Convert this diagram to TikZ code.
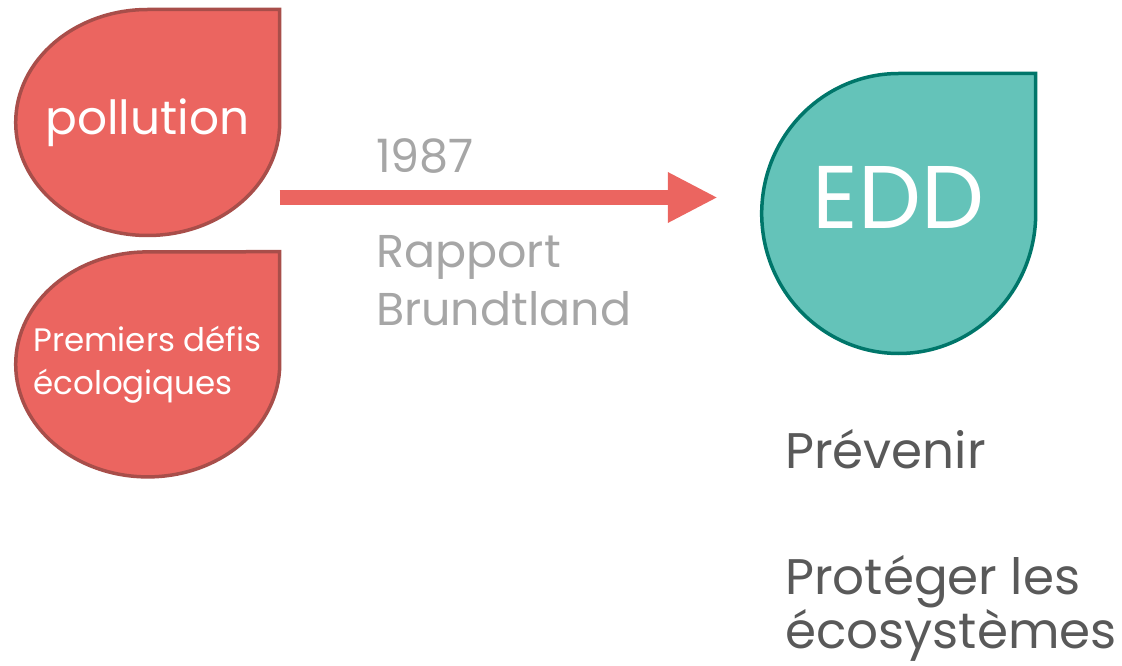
\documentclass[tikz,border=0pt]{standalone}
\usepackage{fontspec}
\setmainfont{Poppins}
\usetikzlibrary{positioning, arrows.meta, backgrounds}

\definecolor{dropred}{HTML}{EB6560}
\definecolor{dropredline}{HTML}{A84E4A}
\definecolor{dropteal}{HTML}{64C3B9}
\definecolor{droptealline}{HTML}{00766A}
\definecolor{notegray}{HTML}{A6A6A6}
\definecolor{textgray}{HTML}{595959}

\tikzset{
    drop/.style={inner sep=0pt, text=white, align=left},
    red drop/.style={fill=dropred, draw=dropredline, line width=3.5pt},
    teal drop/.style={fill=dropteal, draw=droptealline, line width=3.5pt},
    note/.style={inner sep=0pt, anchor=base west, align=left, text=notegray,
        font=\fontsize{46}{58}\selectfont},
    goal/.style={inner sep=0pt, anchor=base west, align=left, text=textgray,
        font=\fontsize{50}{54}\selectfont},
}

% teardrop round node #1, sharp top right corner
\newcommand{\teardrop}[4]{\path[#4] (#1.north east) -- (#1.east)
    arc[start angle=0, end angle=-270, x radius=#2, y radius=#3] -- cycle;}

\begin{document}
\begin{tikzpicture}[x=1pt, y=1pt]
        \useasboundingbox (0,0) rectangle (1122,665);

        \node[drop, minimum width=264pt, minimum height=226pt,
            font=\fontsize{47}{50}\selectfont] (pollution) at (147.5,542.5) {pollution};
        \node[drop, minimum width=264pt, minimum height=225pt,
            font=\fontsize{32.5}{43}\selectfont, below=16pt of pollution] (defis)
            {Premiers défis\\écologiques};
        \node[drop, minimum width=274pt, minimum height=280pt, text depth=33pt,
            font=\fontsize{89}{95}\selectfont] (edd) at (898.5,451.5) {EDD};

        \begin{scope}[on background layer]
            \teardrop{pollution}{132}{113}{red drop}
            \teardrop{defis}{132}{112.5}{red drop}
            \teardrop{edd}{137}{140}{teal drop}
        \end{scope}

        \draw[-{Triangle[width=47pt, length=50pt]}, line width=15pt, dropred]
            ([yshift=-75pt]pollution.east) -- ([xshift=-43.5pt, yshift=16pt]edd.west);

        \node[note] (year) at (376,492) {1987};
        \node[note] (rapport) at (376,339) {Rapport\\Brundtland};

        \node[goal] (prevenir) at (785,197) {Prévenir};
        \node[goal] (proteger) at (785,17) {Protéger les\\écosystèmes};

    \end{tikzpicture}
\end{document}
